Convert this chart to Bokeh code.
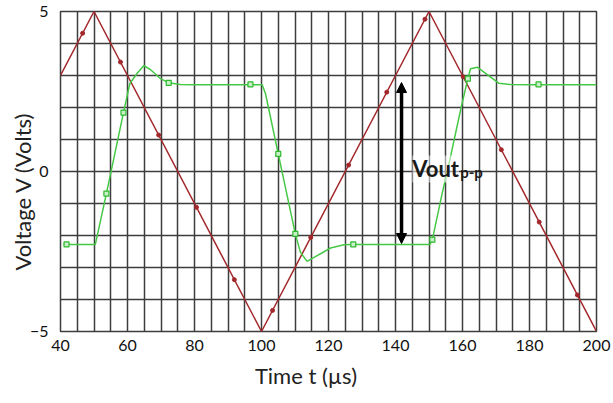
from bokeh.plotting import figure
from bokeh.models import Range1d, FixedTicker, Arrow, NormalHead, Label
from bokeh.embed import file_html
from bokeh.resources import INLINE

# ---- data ----
vin_t = [40, 50, 100, 150, 200]
vin_v = [3, 5, -5, 5, -5]
vin_mark_t = [46.6, 57.9, 69.3, 80.6, 91.9, 103.3, 114.7, 126.0, 137.4, 148.8, 160.2, 171.6, 182.9, 194.3]
vin_mark_v = [4.32, 3.42, 1.14, -1.12, -3.38, -4.34, -2.06, 0.20, 2.48, 4.76, 2.96, 0.68, -1.58, -3.86]

vout_t = [40.9, 50.4, 53.7, 58.8, 60.7, 62.9, 64.9, 66.9, 69.9, 72.3, 75.8, 80.0,
          100.2, 101.2, 105.0, 110.1, 111.6, 113.6, 116.6, 120.6, 124.6, 127.4,
          150.3, 151.0, 153.9, 156.4, 159.4, 161.6, 162.4, 164.4, 168.4, 170.8, 174.3, 180.0, 200.0]
vout_v = [-2.28, -2.28, -0.69, 1.84, 2.75, 3.07, 3.31, 3.18, 2.90, 2.77, 2.72, 2.71,
          2.71, 2.43, 0.55, -1.95, -2.52, -2.81, -2.63, -2.39, -2.29, -2.28,
          -2.28, -2.13, -0.70, 0.45, 1.91, 2.90, 3.21, 3.26, 2.95, 2.76, 2.72, 2.71, 2.71]
vout_mark_t = [41.8, 53.7, 58.8, 72.3, 96.7, 105.0, 110.1, 127.4, 151.0, 161.6, 182.7]
vout_mark_v = [-2.28, -0.69, 1.84, 2.77, 2.72, 0.55, -1.95, -2.28, -2.13, 2.90, 2.72]

x_ticks = [40, 60, 80, 100, 120, 140, 160, 180, 200]
y_ticks = [-5, 0, 5]
x_grid = list(range(40, 201, 5))
y_grid = list(range(-5, 6, 1))

x_title = "Time t (µs)"
y_title = "Voltage V (Volts)"

vpp_t = 141.8
vpp_low = -2.25
vpp_high = 2.78

FONT = "Lato"
GRID = "#3d3d3d"
RED = "#a3282b"
GREEN = "#45c845"
NBSP = "\u00a0"

p = figure(width=613, height=403, output_backend="svg", toolbar_location=None,
           x_range=Range1d(40, 200), y_range=Range1d(-5, 5),
           min_border_left=60, min_border_right=17, min_border_top=11, min_border_bottom=72)
p.background_fill_color = "white"
p.border_fill_color = "white"
p.outline_line_color = GRID
p.outline_line_width = 1.5

p.xaxis.ticker = FixedTicker(ticks=x_ticks)
p.yaxis.ticker = FixedTicker(ticks=y_ticks)
for ax in (p.xaxis, p.yaxis):
    ax.axis_line_color = None
    ax.major_tick_line_color = None
    ax.minor_tick_line_color = None
    ax.major_label_text_font = FONT
    ax.major_label_text_font_size = "16px"
    ax.major_label_text_color = "#111111"
    ax.axis_label_text_font = FONT
    ax.axis_label_text_font_size = "22px"
    ax.axis_label_text_font_style = "normal"
    ax.axis_label_text_color = "#222222"
p.xaxis.major_label_standoff = 2
p.yaxis.major_label_standoff = 6
# titles sit off-centre in the reference: pad with non-breaking spaces
p.xaxis.axis_label = x_title + NBSP * 8
p.yaxis.axis_label = y_title + NBSP * 7
p.xaxis.axis_label_standoff = 8
p.yaxis.axis_label_standoff = -9

p.xgrid.ticker = FixedTicker(ticks=x_grid)
p.ygrid.ticker = FixedTicker(ticks=y_grid)
for g in (p.xgrid, p.ygrid):
    g.grid_line_color = GRID
    g.grid_line_width = 1.5
    g.grid_line_alpha = 1.0

# Vin triangle wave
p.line(vin_t, vin_v, line_color=RED, line_width=1.5)
p.scatter(vin_mark_t, vin_mark_v, marker="circle", size=4, fill_color=RED, line_color=RED)

# Vout
p.line(vout_t, vout_v, line_color=GREEN, line_width=1.5)
p.scatter(vout_mark_t, vout_mark_v, marker="square", size=5, fill_color="#c8f0c8",
          line_color="#2eb82e", line_width=1.2)

# Vout p-p arrow
p.add_layout(Arrow(start=NormalHead(size=10, fill_color="black", line_color="black"),
                   end=NormalHead(size=10, fill_color="black", line_color="black"),
                   x_start=vpp_t, y_start=vpp_low, x_end=vpp_t, y_end=vpp_high,
                   line_width=3.5, line_color="black"))

p.add_layout(Label(x=145.0, y=0.08, text="Vout", text_font=FONT, text_font_style="bold",
                   text_font_size="22px", text_color="#1a1a1a", text_baseline="alphabetic",
                   background_fill_color="white", background_fill_alpha=0.5))
p.add_layout(Label(x=145.0, y=-0.02, x_offset=48, text="p-p", text_font=FONT, text_font_style="bold",
                   text_font_size="15px", text_color="#1a1a1a", text_baseline="alphabetic"))

open("out.html", "w").write(file_html(p, INLINE))
